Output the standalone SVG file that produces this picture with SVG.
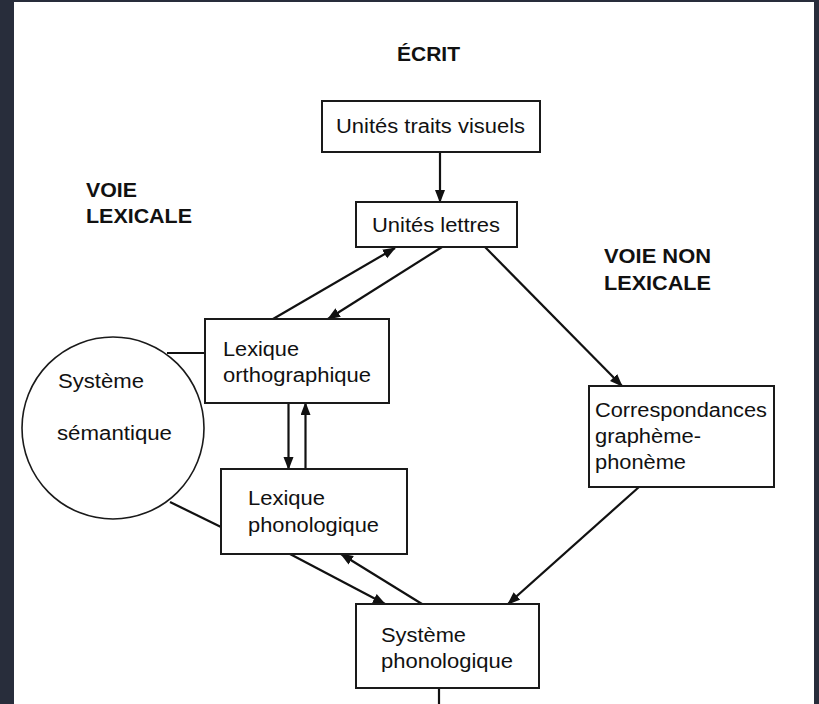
<svg xmlns="http://www.w3.org/2000/svg" width="819" height="704" viewBox="0 0 819 704">
<style>
.box{fill:#fff;stroke:#1a1a1a;stroke-width:2}
.t{font-family:"Liberation Sans",Arial,sans-serif;font-size:19.5px;fill:#111}
.b{font-family:"Liberation Sans",Arial,sans-serif;font-size:19.5px;font-weight:bold;fill:#111}
.c{stroke:#111;stroke-width:2.2;fill:none}
.a{marker-end:url(#ah)}
</style>
<defs>
<marker id="ah" markerUnits="userSpaceOnUse" markerWidth="14" markerHeight="11" refX="12" refY="5" orient="auto">
<path d="M0,0 L13,5 L0,10 z" fill="#111"/>
</marker>
</defs>
<rect width="819" height="704" fill="#282d3b"/>
<rect x="14" y="2" width="800" height="702" fill="#fff"/>
<g id="labels">
<text class="b" x="397" y="61" textLength="63" lengthAdjust="spacingAndGlyphs">ÉCRIT</text>
<text class="b" x="86" y="197" textLength="51" lengthAdjust="spacingAndGlyphs">VOIE</text>
<text class="b" x="86" y="223" textLength="106" lengthAdjust="spacingAndGlyphs">LEXICALE</text>
<text class="b" x="604" y="263" textLength="107" lengthAdjust="spacingAndGlyphs">VOIE NON</text>
<text class="b" x="604" y="290" textLength="107" lengthAdjust="spacingAndGlyphs">LEXICALE</text>
</g>
<g id="connectors">
<line class="c a" x1="440" y1="152" x2="440" y2="202"/>
<line class="c a" x1="273" y1="319" x2="395" y2="248"/>
<line class="c a" x1="442" y1="247" x2="328" y2="319"/>
<line class="c a" x1="485" y1="247" x2="622" y2="386"/>
<line class="c a" x1="288.5" y1="403" x2="288.5" y2="469"/>
<line class="c a" x1="305.5" y1="469" x2="305.5" y2="403"/>
<line class="c a" x1="290" y1="554" x2="385" y2="604"/>
<line class="c a" x1="422" y1="604" x2="341" y2="554"/>
<line class="c a" x1="639" y1="487" x2="508" y2="604"/>
<line class="c" x1="439" y1="688" x2="439" y2="704"/>
<line class="c" stroke-width="1.5" x1="167" y1="353" x2="205" y2="353"/>
<line class="c" stroke-width="1.5" x1="170" y1="502" x2="221" y2="527"/>
</g>
<g id="n-traits">
<rect class="box" x="322" y="101" width="218" height="51"/>
<text class="t" x="336" y="133" textLength="189" lengthAdjust="spacingAndGlyphs">Unités traits visuels</text>
</g>
<g id="n-lettres">
<rect class="box" x="356" y="202" width="161" height="45"/>
<text class="t" x="372" y="232" textLength="128" lengthAdjust="spacingAndGlyphs">Unités lettres</text>
</g>
<g id="n-ortho">
<rect class="box" x="205" y="319" width="184" height="84"/>
<text class="t" x="223" y="356" textLength="76" lengthAdjust="spacingAndGlyphs">Lexique</text>
<text class="t" x="223" y="382" textLength="148" lengthAdjust="spacingAndGlyphs">orthographique</text>
</g>
<g id="n-semantique">
<circle cx="113" cy="428" r="91" fill="#fff" stroke="#1a1a1a" stroke-width="1.6"/>
<text class="t" x="58" y="388" textLength="86" lengthAdjust="spacingAndGlyphs">Système</text>
<text class="t" x="57" y="440" textLength="115" lengthAdjust="spacingAndGlyphs">sémantique</text>
</g>
<g id="n-phono">
<rect class="box" x="221" y="469" width="186" height="85"/>
<text class="t" x="248" y="505" textLength="77" lengthAdjust="spacingAndGlyphs">Lexique</text>
<text class="t" x="248" y="532" textLength="131" lengthAdjust="spacingAndGlyphs">phonologique</text>
</g>
<g id="n-corresp">
<rect class="box" x="589" y="386" width="185" height="101"/>
<text class="t" x="595" y="417" textLength="172" lengthAdjust="spacingAndGlyphs">Correspondances</text>
<text class="t" x="595" y="443" textLength="106" lengthAdjust="spacingAndGlyphs">graphème-</text>
<text class="t" x="595" y="469" textLength="91" lengthAdjust="spacingAndGlyphs">phonème</text>
</g>
<g id="n-sysphono">
<rect class="box" x="356" y="604" width="183" height="84"/>
<text class="t" x="381" y="642" textLength="85" lengthAdjust="spacingAndGlyphs">Système</text>
<text class="t" x="381" y="668" textLength="132" lengthAdjust="spacingAndGlyphs">phonologique</text>
</g>
</svg>
